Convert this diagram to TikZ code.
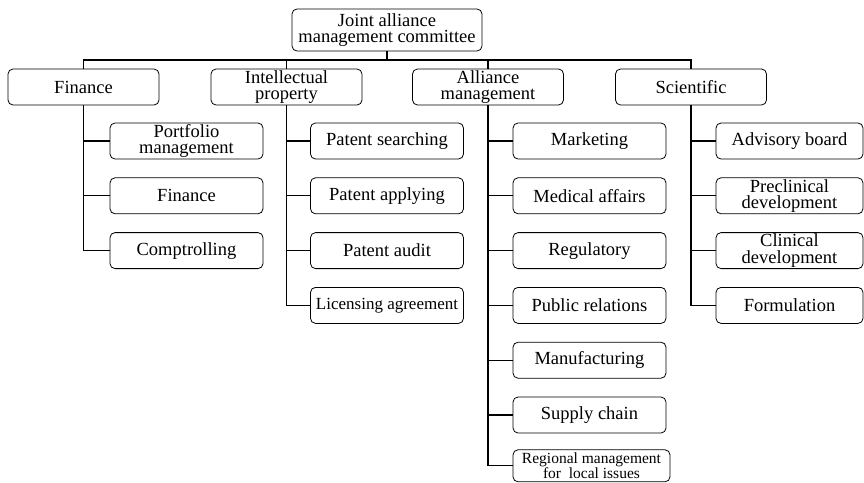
\documentclass[tikz,border=0pt]{standalone}
\usepackage{fontspec}
\setmainfont{Liberation Serif}
\usetikzlibrary{positioning}

\begin{document}
\begin{tikzpicture}[%
    x=1pt,
    y=1pt,
    line width=1.1pt,
    node distance=18pt,
    unit/.style={%
      rectangle,
      rounded corners=5pt,
      draw,
      line width=0.8pt,
      align=center,
      inner sep=1pt,
      minimum height=36pt,
      font=\fontsize{18.5}{16.5}\selectfont
    },
    head/.style={%
      unit,
      minimum width=151pt
    },
    task/.style={%
      unit,
      minimum width=153pt
    }
  ]
    \useasboundingbox (0,0) rectangle (864,-482);

    \node[unit,minimum width=190pt,minimum height=42pt] (top) at (387,-30) {Joint alliance\\management committee};

    \node[head] (fin) at (83.5,-87)  {Finance};
    \node[head] (ip)  at (286.5,-87) {Intellectual\\property};
    \node[head] (am)  at (488,-87)   {Alliance\\management};
    \node[head] (sci) at (691,-87)   {Scientific};

    \node[task] (fin1) at (186.5,-141) {Portfolio\\management};
    \node[task] (fin2) [below=of fin1] {Finance};
    \node[task] (fin3) [below=of fin2] {Comptrolling};

    \node[task] (ip1) at (387,-141) {Patent searching};
    \node[task] (ip2) [below=of ip1] {Patent applying};
    \node[task] (ip3) [below=of ip2] {Patent audit};
    \node[task,font=\fontsize{17}{16}\selectfont] (ip4) [below=of ip3] {Licensing agreement};

    \node[task] (am1) at (589.5,-141) {Marketing};
    \node[task] (am2) [below=of am1] {Medical affairs};
    \node[task] (am3) [below=of am2] {Regulatory};
    \node[task] (am4) [below=of am3] {Public relations};
    \node[task] (am5) [below=of am4] {Manufacturing};
    \node[task] (am6) [below=of am5] {Supply chain};
    \node[task,minimum width=157pt,minimum height=32pt,font=\fontsize{15.5}{14.5}\selectfont] (am7) [below=16pt of am6,xshift=2pt] {Regional management\\for\ \ local issues};

    \node[task,minimum width=147pt] (sci1) at (789.5,-141) {Advisory board};
    \node[task,minimum width=147pt] (sci2) [below=of sci1] {Preclinical\\development};
    \node[task,minimum width=147pt] (sci3) [below=of sci2] {Clinical\\development};
    \node[task,minimum width=147pt] (sci4) [below=of sci3] {Formulation};

    \coordinate (bus) at (387,-60);

    \draw (top.south) -- (bus);
    \draw (fin.north) |- (bus);
    \draw (sci.north) |- (bus);
    \draw (ip.north) -- (ip.north |- bus);
    \draw (am.north) -- (am.north |- bus);

    \foreach \c in {fin1,fin2,fin3} \draw (fin.south) |- (\c.west);
    \foreach \c in {ip1,ip2,ip3,ip4} \draw (ip.south) |- (\c.west);
    \foreach \c in {am1,am2,am3,am4,am5,am6,am7} \draw (am.south) |- (\c.west);
    \foreach \c in {sci1,sci2,sci3,sci4} \draw (sci.south) |- (\c.west);
  \end{tikzpicture}
\end{document}
